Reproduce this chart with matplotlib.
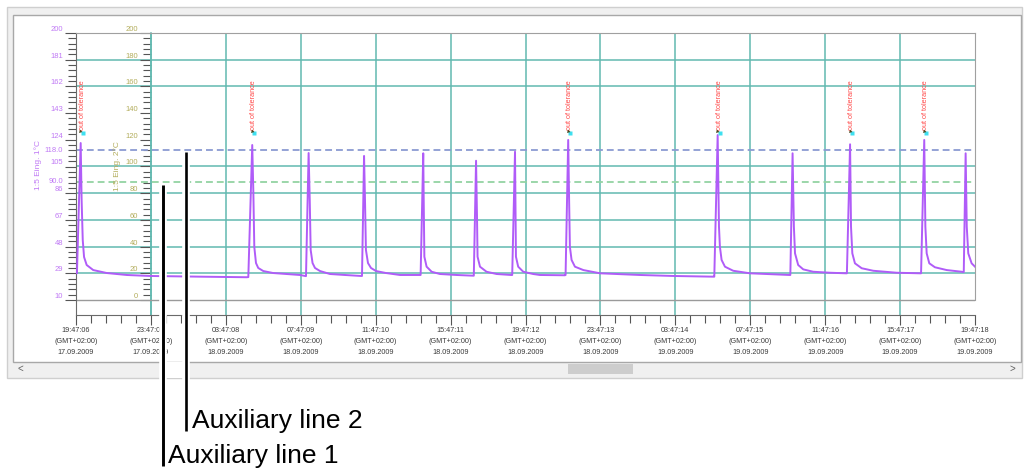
# Temperature log with tolerance markers and two auxiliary lines
import matplotlib
matplotlib.use("Agg")
import matplotlib.pyplot as plt
from matplotlib.ticker import FixedLocator
from matplotlib.patches import Rectangle
import matplotlib.patheffects as pe

plt.rcParams['font.family'] = ['Liberation Sans', 'DejaVu Sans']

# ---- data (x = hours since 17.09.2009 19:47:06, y = Eing. 1 in °C) ----
hours = [
    0.00, 0.05, 0.25, 0.30, 0.36, 0.43, 0.57, 0.92, 1.64, 2.71, 3.95, 6.62, 9.11,
    9.20, 9.41, 9.47, 9.52, 9.61, 9.73, 10.00, 10.52, 11.96, 12.23,
    12.28, 12.42, 12.48, 12.53, 12.63, 12.76, 13.03, 13.56, 14.36, 15.22,
    15.27, 15.38, 15.43, 15.48, 15.59, 15.75, 16.02, 16.55, 17.30, 18.37,
    18.40, 18.54, 18.57, 18.60, 18.72, 18.99, 19.43, 20.32, 21.21,
    21.24, 21.36, 21.41, 21.44, 21.57, 21.92, 22.46, 23.24,
    23.29, 23.44, 23.47, 23.49, 23.61, 23.88, 24.41, 24.77, 26.10,
    26.14, 26.28, 26.33, 26.37, 26.46, 26.64, 27.09, 27.98, 30.11, 31.89, 34.03,
    34.08, 34.26, 34.33, 34.38, 34.47, 34.65, 35.09, 35.98, 37.23, 38.10,
    38.14, 38.26, 38.33, 38.39, 38.56, 38.83, 39.36, 40.26, 41.12,
    41.16, 41.33, 41.38, 41.45, 41.59, 41.95, 42.57, 43.82, 45.06,
    45.12, 45.29, 45.35, 45.42, 45.56, 45.86, 46.49, 47.29, 47.36,
    47.40, 47.50, 47.56, 47.64, 47.82, 48.00,
]
temps = [
    29.2, 29.0, 121.7, 81.2, 52.7, 40.6, 34.9, 31.3, 29.2, 27.8, 27.1, 26.6, 26.2,
    26.3, 120.3, 86.1, 47.7, 36.3, 32.8, 30.6, 29.2, 27.8, 27.1,
    27.0, 114.6, 81.2, 45.6, 36.3, 32.8, 30.6, 28.5, 27.8, 27.1,
    27.1, 112.5, 81.2, 45.6, 36.3, 32.8, 30.6, 29.2, 27.8, 27.8,
    27.8, 114.4, 75.0, 40.8, 33.7, 30.1, 28.5, 27.8, 27.3,
    27.3, 109.1, 70.0, 40.8, 33.7, 30.1, 28.5, 27.8,
    27.8, 115.5, 70.0, 40.8, 33.7, 30.1, 28.5, 27.8, 27.6,
    27.8, 123.9, 80.0, 47.9, 38.5, 33.7, 31.3, 29.0, 27.8, 27.1, 26.6,
    26.6, 127.4, 62.2, 47.9, 38.5, 33.7, 30.8, 29.0, 28.3, 27.8,
    27.8, 114.4, 62.2, 43.2, 34.9, 31.8, 30.1, 29.4, 29.0,
    29.0, 120.8, 62.2, 43.2, 36.1, 32.6, 30.8, 29.4, 29.0,
    29.0, 123.9, 62.2, 43.2, 36.1, 33.3, 31.3, 30.1, 29.9,
    29.9, 114.4, 62.2, 43.2, 36.1, 33.7,
]

# "out of tolerance" events (hours)
tolerance_hours = [0.25, 9.41, 26.28, 34.26, 41.33, 45.29]
tolerance_level = 129.0

# auxiliary lines (position on Eing. 1 scale) and their labels
aux_values = [94.2, 116.6]
aux_labels = ["90.0", "118.0"]

# axis ticks
ticks_1 = [10, 29, 48, 67, 86, 105, 124, 143, 162, 181, 200]
ticks_2 = [0, 20, 40, 60, 80, 100, 120, 140, 160, 180, 200]
grid_rows_2 = [20, 40, 60, 80, 100, 160, 180]
tick_hours = [0, 4, 8, 12, 16, 20, 24, 28, 32, 36, 40, 44, 48]
tick_times = ["19:47:06", "23:47:07", "03:47:08", "07:47:09", "11:47:10", "15:47:11", "19:47:12",
              "23:47:13", "03:47:14", "07:47:15", "11:47:16", "15:47:17", "19:47:18"]
tick_dates = ["17.09.2009"] * 2 + ["18.09.2009"] * 6 + ["19.09.2009"] * 5

# ---- colours ----
purple = "#b05cf8"
purple_txt = "#c07af5"
olive_txt = "#b3ad5c"
teal = "#62b9b0"
red = "#ff4a4a"

W, H = 1025, 468
fig = plt.figure(figsize=(W / 100, H / 100), dpi=100)


def box(x0, y0, x1, y1):
    # pixel box (top-left origin) -> figure fraction rect
    return [x0 / W, 1 - y1 / H, (x1 - x0) / W, (y1 - y0) / H]


# ---- window background ----
bg = fig.add_axes([0, 0, 1, 1], zorder=0)
bg.set_xlim(0, W)
bg.set_ylim(H, 0)
bg.axis('off')
bg.add_patch(Rectangle((7, 7), 1015, 371, fc='#f0f0f0', ec='#cfcfcf', lw=1))
bg.add_patch(Rectangle((13, 15), 1008, 347, fc='white', ec='#a8a8a8', lw=1))
bg.add_patch(Rectangle((568, 364), 65, 10, fc='#cdcdcd', ec='none'))
bg.add_patch(Rectangle((160, 362), 29, 16, fc='white', ec='none'))
bg.text(20, 369, '<', fontsize=7, color='#606060', ha='center', va='center')
bg.text(1012, 369, '>', fontsize=7, color='#606060', ha='center', va='center')

# ---- chart axes ----
ax = fig.add_axes(box(76, 33, 975, 315), zorder=1)
ax.patch.set_visible(False)
ax2 = ax.twinx()
ax2.set_zorder(0.5)
ax2.patch.set_visible(False)

ax.set_xlim(0, 48)
ax.set_ylim(10 - 15 * 190 / 267, 200)
ax2.set_ylim(0 - 15 * 200 / 267, 200)

# grid
for h in tick_hours[1:-1]:
    ax.axvline(h, color=teal, lw=1.1, zorder=1)
for g in grid_rows_2:
    ax2.axhline(g, color=teal, lw=1.1, zorder=1)
ax.axhline(10, color='#9a9a9a', lw=1.0, zorder=1)

# auxiliary dashed lines
ax.axhline(aux_values[1], color='#8b9bd2', lw=1.3, ls=(0, (3.8, 2.2)), zorder=2)
ax.axhline(aux_values[0], color='#93d3a3', lw=1.3, ls=(0, (3.8, 2.2)), zorder=2)
for v, lab in zip(aux_values, aux_labels):
    ax.annotate(lab, xy=(0, v), xycoords=('axes fraction', 'data'), xytext=(-9.4, 0),
                textcoords='offset points', ha='right', va='center', fontsize=5.5, color=purple_txt)

# measured curve
ax.plot(hours, temps, color=purple, lw=1.4, zorder=3)

# tolerance markers
for h in tolerance_hours:
    ax.text(h + 0.09, tolerance_level + 2.2, "out of tolerance", rotation=90, ha='center', va='bottom',
            fontsize=5.2, color=red, zorder=4)
    ax.plot(h + 0.1, tolerance_level, marker='s', ms=2.6, color='#3fe0f0', mec='none', zorder=4)
    ax.plot(h - 0.02, tolerance_level + 1.5, marker=(3, 0, 135), ms=3, color='#4a4a20', mec='none', zorder=5)

# spines
ax.spines['top'].set_color('#a0a0a0')
ax.spines['right'].set_color('#a0a0a0')
ax.spines['right'].set_bounds(10, 200)
ax.spines['left'].set_color('#6a6a6a')
ax.spines['bottom'].set_color('#6a6a6a')
for s in ['top', 'right', 'bottom']:
    ax2.spines[s].set_visible(False)
ax2.spines['left'].set_position(('axes', 75 / 899))
ax2.spines['left'].set_color(teal)
ax2.spines['left'].set_linewidth(1.1)
ax2.yaxis.tick_left()
ax2.yaxis.set_label_position('left')

# y ticks (Eing. 1)
ax.yaxis.set_major_locator(FixedLocator(ticks_1))
ax.yaxis.set_minor_locator(FixedLocator([10 + k * 3.8 for k in range(51) if k % 5]))
ax.set_yticklabels([str(t) for t in ticks_1])
ax.tick_params(axis='y', which='major', length=7.9, width=0.8, color='#555555',
               labelsize=5.5, labelcolor=purple_txt, pad=1.4)
ax.tick_params(axis='y', which='minor', length=5.6, width=0.8, color='#555555')

# y ticks (Eing. 2)
ax2.yaxis.set_major_locator(FixedLocator(ticks_2))
ax2.yaxis.set_minor_locator(FixedLocator([k * 4 for k in range(51) if k % 5]))
ax2.set_yticklabels([str(t) for t in ticks_2])
ax2.tick_params(axis='y', which='major', length=7.9, width=0.8, color='#555555',
                labelsize=5.5, labelcolor=olive_txt, pad=1.4)
ax2.tick_params(axis='y', which='minor', length=5.6, width=0.8, color='#555555')

for lab in ax.get_yticklabels() + ax2.get_yticklabels():
    lab.set_va('bottom')

# x ticks
ax.xaxis.set_major_locator(FixedLocator(tick_hours))
ax.xaxis.set_minor_locator(FixedLocator([k * 0.8 for k in range(61) if k % 5]))
ax.set_xticklabels([t + "\n(GMT+02:00)\n" + d for t, d in zip(tick_times, tick_dates)])
ax.tick_params(axis='x', which='major', length=7.2, width=0.8, color='#555555',
               labelsize=5.2, labelcolor='#3a3a3a', pad=1.5)
ax.tick_params(axis='x', which='minor', length=6.0, width=0.8, color='#555555')
for lab in ax.get_xticklabels():
    lab.set_linespacing(1.75)

# axis titles
fig.text(38 / W, 1 - 165 / H, "1:5 Eing. 1°C", rotation=90, ha='center', va='center',
         fontsize=6, color=purple_txt)
fig.text(117 / W, 1 - 166 / H, "1:5 Eing. 2°C", rotation=90, ha='center', va='center',
         fontsize=6, color=olive_txt)

# ---- callouts ----
ov = fig.add_axes([0, 0, 1, 1], zorder=2)
ov.set_xlim(0, W)
ov.set_ylim(H, 0)
ov.axis('off')
halo = [pe.Stroke(linewidth=5.5, foreground='white'), pe.Normal()]
ov.plot([163, 163], [185, 466], color='black', lw=2.1, solid_capstyle='butt', path_effects=halo)
ov.plot([186, 186], [152, 431], color='black', lw=1.9, solid_capstyle='butt', path_effects=halo)
ov.text(192, 428, "Auxiliary line 2", fontsize=19, ha='left', va='baseline', color='black')
ov.text(168, 463, "Auxiliary line 1", fontsize=19, ha='left', va='baseline', color='black')

fig.savefig("out.png", dpi=100)
